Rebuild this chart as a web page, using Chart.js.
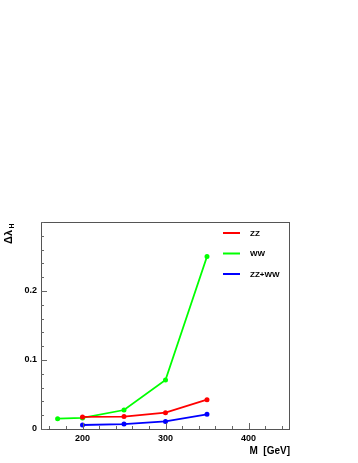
<!DOCTYPE html>
<html>
<head>
<meta charset="utf-8">
<script src="https://cdn.jsdelivr.net/npm/chart.js@4.4.1/dist/chart.umd.min.js"></script>
<style>
  html, body { margin: 0; padding: 0; background: #fff; }
  #graph { display: block; }
</style>
</head>
<body>
<canvas id="graph" width="358" height="463"></canvas>
<script>
// data
let massZZ = [200, 250, 300, 350]
let valuesZZ = [0.0175, 0.018, 0.0237, 0.0425]
let massWW = [170, 200, 250, 300, 350]
let valuesWW = [0.015, 0.016, 0.0275, 0.071, 0.25]
let massBoth = [200, 250, 300, 350]
let valuesBoth = [0.0058, 0.0072, 0.011, 0.0213]
let seriesNames = ['ZZ', 'WW', 'ZZ+WW']
let seriesColors = ['#ff0000', '#00ff00', '#0000ff']
let xMajorTicks = [200, 300, 400]
let yMajorTicks = [0, 0.1, 0.2]

const toPoints = (xs, ys) => xs.map((x, i) => ({ x: x, y: ys[i] }))

const isMajor = (v, list) => list.some(m => Math.abs(m - v) < 1e-6)

const tickFont = { family: 'Liberation Sans', size: 9, weight: 'bold' }

// minor ticks every 20 GeV between the majors
let xTickValues = []
for (let v = 160; v <= 440; v += 20) xTickValues.push(v)

// frame, inward ticks, legend and axis titles
const rootStyle = {
  id: 'rootStyle',
  afterDraw(chart) {
    let c = chart.ctx
    let area = chart.chartArea
    let xs = chart.scales.x
    let ys = chart.scales.y
    c.save()
    c.strokeStyle = '#555'
    c.lineWidth = 1
    c.strokeRect(area.left + 0.5, area.top + 0.5, area.right - area.left - 1, area.bottom - area.top)

    c.strokeStyle = '#666'
    c.beginPath()
    xs.ticks.forEach(t => {
      let px = Math.round(xs.getPixelForValue(t.value)) + 0.5
      let len = isMajor(t.value, xMajorTicks) ? 6 : 3
      c.moveTo(px, area.bottom)
      c.lineTo(px, area.bottom - len)
    })
    ys.ticks.forEach(t => {
      let py = Math.round(ys.getPixelForValue(t.value)) + 0.5
      let len = isMajor(t.value, yMajorTicks) ? 6 : 3
      c.moveTo(area.left, py)
      c.lineTo(area.left + len, py)
    })
    c.stroke()

    // legend
    c.font = 'bold 8px "Liberation Sans"'
    c.textBaseline = 'middle'
    chart.data.datasets.forEach((ds, i) => {
      let y = 233 + i * 20.5
      c.strokeStyle = ds.borderColor
      c.lineWidth = 2
      c.beginPath()
      c.moveTo(223, y)
      c.lineTo(240, y)
      c.stroke()
      c.fillStyle = '#000'
      c.textAlign = 'left'
      c.fillText(ds.label, 250, y + 0.5)
    })

    // x title
    c.fillStyle = '#000'
    c.textAlign = 'right'
    c.font = 'bold 10px "Liberation Sans"'
    c.fillText('M  [GeV]', 290, 451)

    // y title
    c.translate(9, 234)
    c.rotate(-Math.PI / 2)
    c.textAlign = 'center'
    c.font = 'bold 11px "Liberation Sans"'
    c.fillText('Δλ', -3, 0)
    c.font = 'bold 7px "Liberation Sans"'
    c.fillText('H', 8, 3)
    c.restore()
  }
}

const makeSet = (label, pts, color) => ({
  label: label,
  data: pts,
  borderColor: color,
  backgroundColor: color,
  borderWidth: 1.8,
  pointRadius: 1.6,
  pointHoverRadius: 1.6,
  tension: 0
})

new Chart(document.getElementById('graph'), {
  type: 'line',
  data: {
    datasets: [
      makeSet(seriesNames[0], toPoints(massZZ, valuesZZ), seriesColors[0]),
      makeSet(seriesNames[1], toPoints(massWW, valuesWW), seriesColors[1]),
      makeSet(seriesNames[2], toPoints(massBoth, valuesBoth), seriesColors[2])
    ]
  },
  options: {
    responsive: false,
    animation: false,
    events: [],
    layout: { padding: { left: 0, right: 68, top: 222, bottom: 0 } },
    plugins: {
      legend: { display: false },
      tooltip: { enabled: false }
    },
    scales: {
      x: {
        type: 'linear',
        min: 150,
        max: 450,
        grid: { display: false, drawTicks: false },
        border: { display: false },
        afterFit: s => { s.height = 34 },
        afterBuildTicks: s => { s.ticks = xTickValues.map(v => ({ value: v })) },
        ticks: {
          autoSkip: false,
          maxRotation: 0,
          padding: 4,
          color: '#000',
          font: tickFont,
          callback: v => isMajor(v, xMajorTicks) ? String(v) : ''
        }
      },
      y: {
        min: 0,
        max: 0.3,
        grid: { display: false, drawTicks: false },
        border: { display: false },
        afterFit: s => { s.width = 41 },
        ticks: {
          stepSize: 0.02,
          autoSkip: false,
          padding: 4,
          color: '#000',
          font: tickFont,
          callback: v => {
            if (!isMajor(v, yMajorTicks)) return ''
            return Math.abs(v) < 1e-9 ? '0' : String(Math.round(v * 10) / 10)
          }
        }
      }
    }
  },
  plugins: [rootStyle]
})
</script>
</body>
</html>
